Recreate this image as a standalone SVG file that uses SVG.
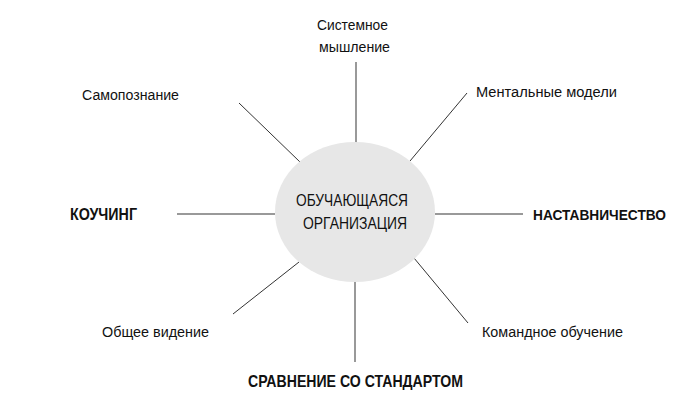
<svg xmlns="http://www.w3.org/2000/svg" width="687" height="413" viewBox="0 0 687 413">
<style>
.lbl{font-family:"Liberation Sans",Arial,sans-serif;font-size:15.5px;fill:#111}
.big{font-family:"Liberation Sans",Arial,sans-serif;font-size:17px;font-weight:bold;fill:#111}
.ctr{font-family:"Liberation Sans",Arial,sans-serif;font-size:16px;fill:#111}
.dk{stroke:#333;stroke-width:1;fill:none}
.gr{stroke:#999;stroke-width:2;fill:none}
.vt{stroke:#555;stroke-width:1.2;fill:none}
</style>
<rect width="687" height="413" fill="#fff"/>
<g id="connectors">
<line class="vt" x1="356" y1="62" x2="356" y2="143"/>
<line class="vt" x1="355" y1="282" x2="355" y2="362"/>
<line class="gr" x1="177" y1="214" x2="275" y2="214"/>
<line class="gr" x1="435" y1="214" x2="523" y2="214"/>
<line class="dk" x1="239" y1="103" x2="300" y2="162"/>
<line class="dk" x1="467" y1="93" x2="410" y2="161"/>
<line class="dk" x1="299" y1="262" x2="233" y2="314"/>
<line class="dk" x1="414" y1="258" x2="468" y2="323"/>
</g>
<g id="center">
<ellipse cx="355" cy="212" rx="80" ry="70" fill="#e7e7e7"/>
<text class="ctr" x="296" y="206" textLength="112" lengthAdjust="spacingAndGlyphs">ОБУЧАЮЩАЯСЯ</text>
<text class="ctr" x="303" y="229" textLength="104" lengthAdjust="spacingAndGlyphs">ОРГАНИЗАЦИЯ</text>
</g>
<g id="n-system">
<text class="lbl" x="317" y="30" textLength="71" lengthAdjust="spacingAndGlyphs">Системное</text>
<text class="lbl" x="319" y="52" textLength="71" lengthAdjust="spacingAndGlyphs">мышление</text>
</g>
<g id="n-mental">
<text class="lbl" x="476" y="97" textLength="141" lengthAdjust="spacingAndGlyphs">Ментальные модели</text>
</g>
<g id="n-mentoring">
<text class="big" x="533" y="220" style="font-size:15px" textLength="133" lengthAdjust="spacingAndGlyphs">НАСТАВНИЧЕСТВО</text>
</g>
<g id="n-team">
<text class="lbl" x="482" y="337" textLength="141" lengthAdjust="spacingAndGlyphs">Командное обучение</text>
</g>
<g id="n-benchmark">
<text class="big" x="248" y="387" textLength="215" lengthAdjust="spacingAndGlyphs">СРАВНЕНИЕ СО СТАНДАРТОМ</text>
</g>
<g id="n-vision">
<text class="lbl" x="102" y="337" textLength="107" lengthAdjust="spacingAndGlyphs">Общее видение</text>
</g>
<g id="n-coaching">
<text class="big" x="70" y="220" textLength="67" lengthAdjust="spacingAndGlyphs">КОУЧИНГ</text>
</g>
<g id="n-self">
<text class="lbl" x="82" y="100" textLength="97" lengthAdjust="spacingAndGlyphs">Самопознание</text>
</g>
</svg>
